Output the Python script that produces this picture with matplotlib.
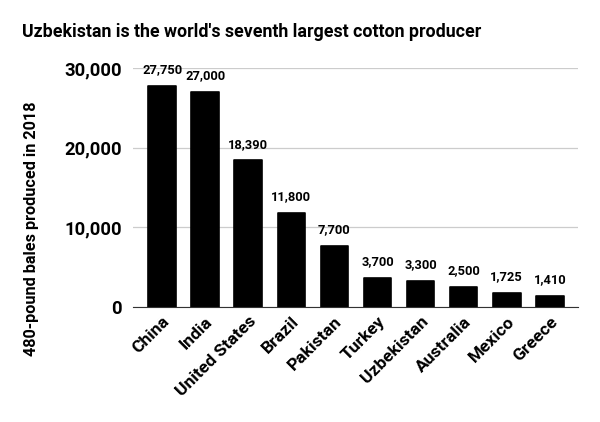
import matplotlib.pyplot as plt
import numpy as np

plt.rcParams['font.family'] = ['Roboto', 'DejaVu Sans']

countries = ["China", "India", "United States", "Brazil", "Pakistan",
             "Turkey", "Uzbekistan", "Australia", "Mexico", "Greece"]
bales = [27750, 27000, 18390, 11800, 7700, 3700, 3300, 2500, 1725, 1410]
yticks = [0, 10000, 20000, 30000]

fig = plt.figure(figsize=(6, 4.22), dpi=100)
ax = fig.add_axes([0.222, 0.2725, 0.741, 0.5665])

X = np.arange(len(countries))
ax.bar(X, bales, width=0.64, color='black', edgecolor='black',
       linewidth=1.2, joinstyle='round', zorder=3)

for x, y in zip(X, bales):
    ax.annotate(f"{y:,}", (x, y), xytext=(0, 7), textcoords='offset points',
                ha='center', va='bottom', fontsize=9.3, fontweight='bold')

ax.set_xlim(-0.67, 9.65)
ax.set_ylim(0, 30000)
ax.set_yticks(yticks)
ax.set_yticklabels([f"{t:,}" for t in yticks], fontsize=13.2, fontweight='bold')
ax.set_xticks(X)
ax.set_xticklabels(countries, rotation=45, ha='right', rotation_mode='anchor',
                   fontsize=12.6, fontweight='bold')
ax.tick_params(length=0, pad=8)
ax.tick_params(axis='x', pad=5)

ax.grid(axis='y', color='#cccccc', linewidth=0.9, zorder=0)
for s in ['top', 'right', 'left']:
    ax.spines[s].set_visible(False)
ax.spines['bottom'].set_color('#333333')
ax.spines['bottom'].set_zorder(4)

# y label sits a bit lower than the axes centre in the original
fig.text(32 / 600, 1 - 229 / 422, "480-pound bales produced in 2018",
         rotation=90, fontsize=11.7, fontweight='bold', ha='center', va='center')
fig.text(0.037, 0.925, "Uzbekistan is the world's seventh largest cotton producer",
         fontsize=12.8, fontweight='bold', ha='left', va='center')

plt.savefig('out.png', dpi=100)
